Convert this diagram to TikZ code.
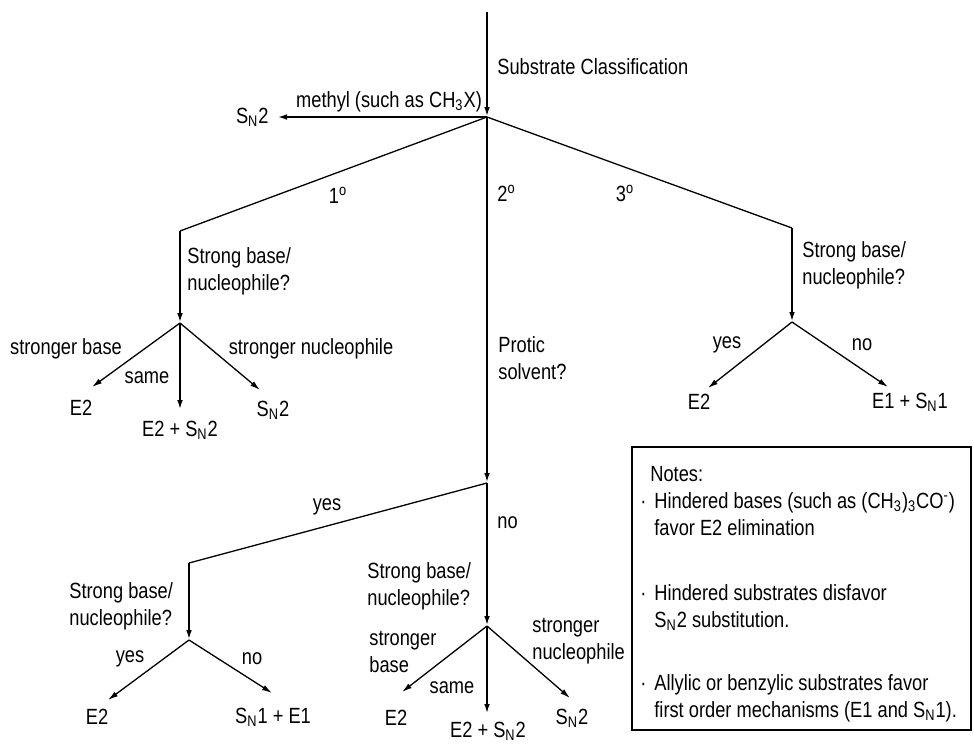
\documentclass[tikz,border=0pt]{standalone}
\usepackage{fontspec}
\setmainfont{Liberation Sans}[FakeStretch=0.83]
\usetikzlibrary{arrows.meta}
\newcommand{\notebullet}{\makebox[7pt][l]{·}}

\begin{document}
\begin{tikzpicture}[x=0.5pt, y=-0.5pt, >={Latex[length=5pt,width=2.8pt]}]

        % Styles
        \tikzset{
            txt/.style={inner sep=0pt, font=\fontsize{11}{13.5}\selectfont},
            query/.style={txt, align=left, anchor=west},
            slope/.style={line width=0.65pt},
            stem/.style={->, line width=1.05pt},
            branch/.style={->, line width=0.65pt}
        }

        \useasboundingbox (0,0) rectangle (974,746);

        % --- Points of the tree ---
        \coordinate (top) at (487,12);
        \coordinate (j0) at (487,117);
        \coordinate (tme) at (277,117);
        \coordinate (c1) at (180,231);
        \coordinate (j1) at (180,323);
        \coordinate (c3) at (792,228);
        \coordinate (j3) at (792,322);
        \coordinate (j2) at (487,483);
        \coordinate (c2) at (189,563);
        \coordinate (j4) at (189,640);
        \coordinate (j5) at (487,626);

        % arrow ends
        \coordinate (t11) at (92,387);
        \coordinate (t12) at (180,410);
        \coordinate (t13) at (260,390);
        \coordinate (t31) at (708,388);
        \coordinate (t32) at (888,387);
        \coordinate (t41) at (108,700);
        \coordinate (t42) at (272,693);
        \coordinate (t51) at (402,692);
        \coordinate (t52) at (487,714);
        \coordinate (t53) at (570,698);

        % --- Top: substrate ---
        \node[query] (subst) at (497,67) {Substrate Classification};
        \node[txt] (methyl) at (389,102) {methyl (such as CH\textsubscript{3}X)};
        \node[txt, anchor=east] (snme) at (269,117) {S\textsubscript{N}2};
        \node[txt] (deg1) at (338,195) {1\textsuperscript{o}};
        \node[txt, anchor=west] (deg2) at (497,193) {2\textsuperscript{o}};
        \node[txt] (deg3) at (625,193) {3\textsuperscript{o}};

        \draw[stem] (top) -- (j0);
        \draw[stem] (j0) -- (tme);
        \draw[slope] (j0) -- (c1);
        \draw[slope] (j0) -- (c3);
        \draw[stem] (j0) -- (j2);

        % --- Primary ---
        \node[query] (q1) at (187,271) {Strong base/\\nucleophile?};
        \draw[stem] (c1) -- (j1);
        \node[txt] (sb1) at (66,349) {stronger base};
        \node[txt] (sa1) at (147,378) {same};
        \node[txt] (sn1) at (311,349) {stronger nucleophile};
        \node[txt] (e2a) at (81,408) {E2};
        \node[txt] (mixa) at (180,430) {E2 + S\textsubscript{N}2};
        \node[txt] (sna) at (273,410) {S\textsubscript{N}2};
        \draw[branch] (j1) -- (t11);
        \draw[stem] (j1) -- (t12);
        \draw[branch] (j1) -- (t13);

        % --- Tertiary ---
        \node[query] (q3) at (802,265) {Strong base/\\nucleophile?};
        \draw[stem] (c3) -- (j3);
        \node[txt] (y3) at (727,345) {yes};
        \node[txt] (n3) at (862,345) {no};
        \node[txt] (e2c) at (699,402) {E2};
        \node[txt] (e1c) at (910,402) {E1 + S\textsubscript{N}1};
        \draw[branch] (j3) -- (t31);
        \draw[branch] (j3) -- (t32);

        % --- Secondary ---
        \node[query] (protic) at (498,358) {Protic\\solvent?};
        \node[txt] (y2) at (327,507) {yes};
        \node[txt, anchor=west] (n2) at (497,523) {no};
        \draw[slope] (j2) -- (c2);
        \draw[stem] (c2) -- (j4);
        \draw[stem] (j2) -- (j5);

        % protic: yes
        \node[query] (q4) at (69,606) {Strong base/\\nucleophile?};
        \node[txt] (y4) at (130,659) {yes};
        \node[txt] (n4) at (252,659) {no};
        \node[txt] (e2d) at (97,717) {E2};
        \node[txt] (snd) at (273,717) {S\textsubscript{N}1 + E1};
        \draw[branch] (j4) -- (t41);
        \draw[branch] (j4) -- (t42);

        % protic: no
        \node[query] (q5) at (367,586) {Strong base/\\nucleophile?};
        \node[query] (sb5) at (369,652) {stronger\\base};
        \node[txt] (sa5) at (452,688) {same};
        \node[query] (sn5) at (532,641) {stronger\\nucleophile};
        \node[txt] (e2e) at (396,718) {E2};
        \node[txt] (mixe) at (488,731) {E2 + S\textsubscript{N}2};
        \node[txt] (sne) at (572,718) {S\textsubscript{N}2};
        \draw[branch] (j5) -- (t51);
        \draw[stem] (j5) -- (t52);
        \draw[branch] (j5) -- (t53);

        % --- Notes ---
        \coordinate (nbl) at (632,730);
        \coordinate (ntr) at (971,447);
        \draw[line width=0.65pt] (nbl) rectangle (ntr);
        \node[txt, align=left, anchor=north west] (notes) at (640,466) {%
            \hspace*{5pt}Notes:\\
            \notebullet Hindered bases (such as (CH\textsubscript{3})\textsubscript{3}CO\textsuperscript{-})\\
            \hspace*{7pt}favor E2 elimination\\[19pt]
            \notebullet Hindered substrates disfavor\\
            \hspace*{7pt}S\textsubscript{N}2 substitution.\\[18pt]
            \notebullet Allylic or benzylic substrates favor\\
            \hspace*{7pt}first order mechanisms (E1 and S\textsubscript{N}1).};

    \end{tikzpicture}
\end{document}
